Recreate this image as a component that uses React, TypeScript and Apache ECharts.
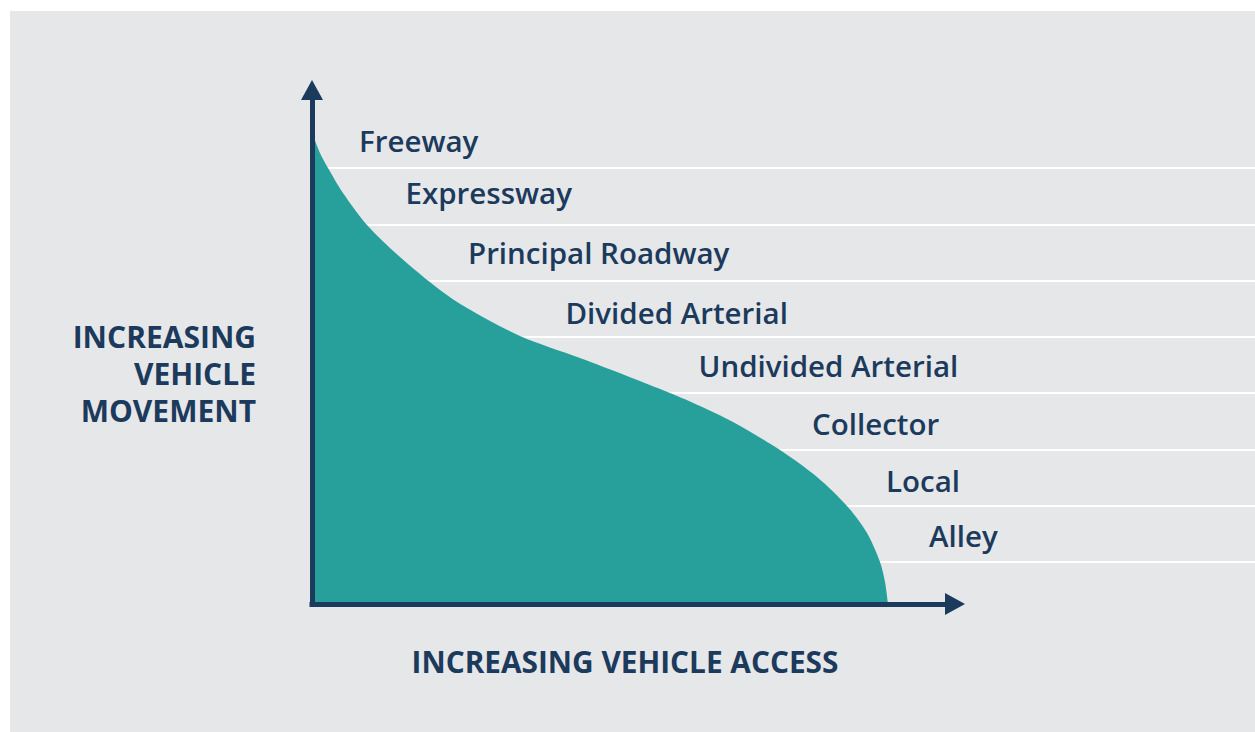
import React, { useEffect, useRef } from "react";
import * as echarts from "echarts";

// Curve: vehicle access (x) vs vehicle movement (y), in chart units
const accessX = [0, 8, 16, 31, 55, 88, 128, 155, 208, 268, 315, 358, 388, 421, 468, 505, 535, 555, 568, 573, 576];
const movementY = [472, 451, 436, 411, 379, 347, 314, 296, 268, 246, 228, 211, 198, 182, 154, 127, 98, 71, 42, 22, 0];

// Road classes and their label anchors (chart units)
const roadNames = ["Freeway", "Expressway", "Principal Roadway", "Divided Arterial", "Undivided Arterial", "Collector", "Local", "Alley"];
const roadLabelX = [47, 93.5, 156, 253.5, 386.5, 500, 574, 617];
const roadLabelY = [464, 412, 352, 292, 239, 181, 124, 69];

// Separator levels between road classes
const levelLines = [436, 379, 323, 267, 211, 154, 98, 42];

const X_MAX = 643;
const Y_MAX = 514;

const NAVY = "#1c3a5c";
const TEAL = "#279f9b";
const BG = "#e6e7e9";
const FONT = "'Open Sans', 'Noto Sans', sans-serif";

export default function App() {
  const ref = useRef<HTMLDivElement>(null);

  useEffect(() => {
    document.body.style.margin = "0";
    if (!ref.current) return;
    const chart = echarts.init(ref.current, undefined, { renderer: "svg" });

    const curve = accessX.map((x, i) => [x, movementY[i]]);
    const labels = roadNames.map((n, i) => ({ value: [roadLabelX[i], roadLabelY[i]], name: n }));

    chart.setOption({
      animation: false,
      backgroundColor: "#ffffff",
      graphic: [
        {
          type: "rect",
          z: -10,
          silent: true,
          shape: { x: 10, y: 11, width: 1245, height: 721 },
          style: { fill: BG },
        },
        {
          type: "text",
          z: 10,
          x: 625,
          y: 661,
          style: {
            text: "INCREASING VEHICLE ACCESS",
            fill: NAVY,
            font: `700 29.8px ${FONT}`,
            textAlign: "center",
            textVerticalAlign: "middle",
          },
        },
        {
          type: "text",
          z: 10,
          x: 256,
          y: 373,
          style: {
            text: "INCREASING\nVEHICLE\nMOVEMENT",
            fill: NAVY,
            font: `700 30px ${FONT}`,
            lineHeight: 37,
            textAlign: "right",
            textVerticalAlign: "middle",
          },
        },
      ],
      grid: [
        { left: 312, top: 90, width: X_MAX, bottom: 128 },
        { left: 312, top: 90, right: 0, bottom: 128 },
      ],
      xAxis: [
        {
          type: "value",
          gridIndex: 0,
          min: 0,
          max: X_MAX,
          z: 10,
          axisLine: {
            show: true,
            symbol: ["none", "triangle"],
            symbolSize: [22, 20],
            lineStyle: { color: NAVY, width: 5, cap: "square" },
          },
          axisTick: { show: false },
          axisLabel: { show: false },
          splitLine: { show: false },
        },
        {
          type: "value",
          gridIndex: 1,
          min: 0,
          max: 1,
          show: false,
        },
      ],
      yAxis: [
        {
          type: "value",
          gridIndex: 0,
          min: 0,
          max: Y_MAX,
          z: 10,
          axisLine: {
            show: true,
            symbol: ["none", "triangle"],
            symbolSize: [22, 20],
            lineStyle: { color: NAVY, width: 5, cap: "square" },
          },
          axisTick: { show: false },
          axisLabel: { show: false },
          splitLine: { show: false },
        },
        {
          type: "value",
          gridIndex: 1,
          min: 0,
          max: Y_MAX,
          show: false,
        },
      ],
      series: [
        {
          type: "line",
          xAxisIndex: 1,
          yAxisIndex: 1,
          z: 1,
          silent: true,
          data: [[0, 0]],
          showSymbol: false,
          symbol: "none",
          lineStyle: { opacity: 0 },
          markLine: {
            z: 1,
            silent: true,
            symbol: ["none", "none"],
            label: { show: false },
            lineStyle: { color: "#ffffff", width: 2, type: "solid", opacity: 1 },
            data: levelLines.map((v) => ({ yAxis: v })),
          },
        },
        {
          type: "line",
          xAxisIndex: 0,
          yAxisIndex: 0,
          z: 3,
          silent: true,
          data: curve,
          smooth: 0.3,
          showSymbol: false,
          symbol: "none",
          lineStyle: { width: 0 },
          areaStyle: { color: TEAL, opacity: 1 },
        },
        {
          type: "scatter",
          xAxisIndex: 0,
          yAxisIndex: 0,
          z: 5,
          silent: true,
          symbolSize: 0,
          itemStyle: { opacity: 1 },
          data: labels,
          label: {
            show: true,
            position: "right",
            distance: 0,
            opacity: 1,
            formatter: (p: any) => p.name,
            color: NAVY,
            fontFamily: FONT,
            fontWeight: 600,
            fontSize: 29.5,
          },
        },
      ],
    });

    return () => chart.dispose();
  }, []);

  return <div ref={ref} style={{ width: 1255, height: 732 }} />;
}
